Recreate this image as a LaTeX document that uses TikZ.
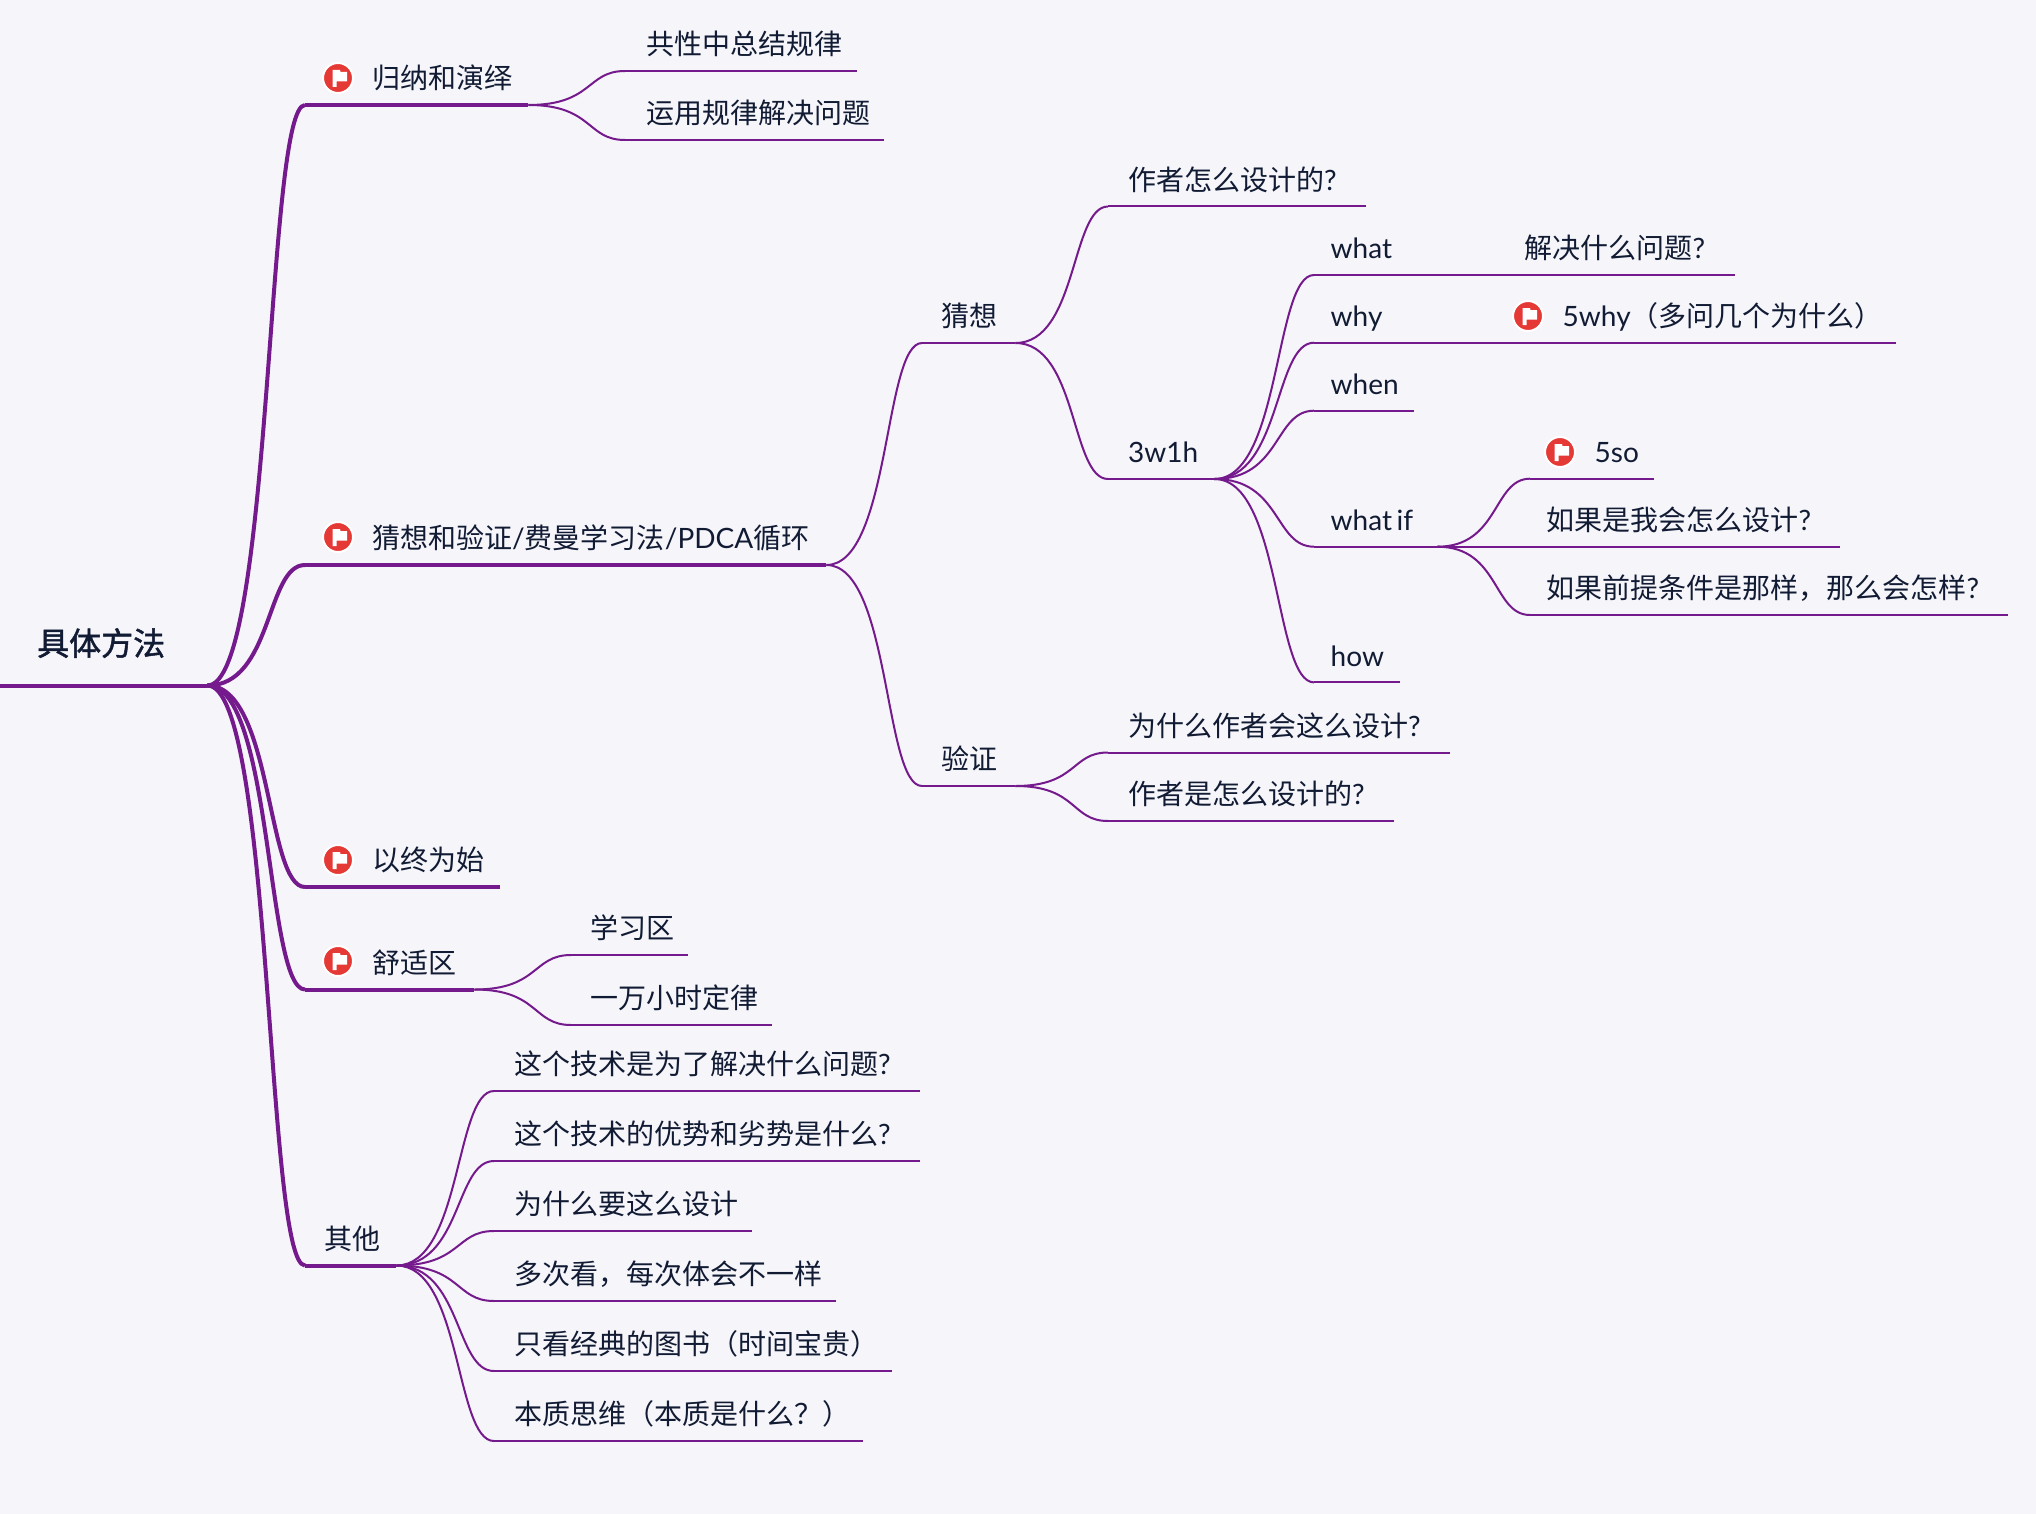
\documentclass[tikz,border=0pt]{standalone}
\usepackage{fontspec}
\setmainfont{Lato}
\newfontfamily\cjk{Noto Sans CJK SC}
\newfontfamily\cjkroot[FakeBold=1.5]{Noto Sans CJK SC}
\newfontfamily\latfont{Lato}
\newcommand{\lat}[1]{{\latfont #1}}
\usetikzlibrary{calc}
\definecolor{pagebg}{HTML}{F5F5FA}
\definecolor{branchc}{HTML}{751A8C}
\definecolor{flagred}{HTML}{E53935}
\definecolor{inkc}{HTML}{111B33}
\tikzset{
  topic/.style 2 args={anchor=south west, inner sep=0pt, text=inkc, align=left,
    font=\fontsize{28}{30}\selectfont\cjk, text width=#1pt, text height=24pt, text depth=16pt,
    execute at begin node={\hspace*{#2pt}}},
  rootnode/.style={topic={207}{37}, text depth=30pt, font=\fontsize{32}{34}\selectfont\cjkroot},
  thickline/.style={draw=branchc, line width=4pt},
  thinline/.style={draw=branchc, line width=2pt},
  branch/.style={to path={let \p1=(\tikztostart), \p2=(\tikztotarget) in
    .. controls ({\x1+.67*(\x2-\x1)},\y1) and ({\x2-.40*(\x2-\x1)},\y2) .. (\tikztotarget)}},
  flagmark/.style={circle, fill=flagred, draw=white, line width=2pt, minimum size=30pt, inner sep=0pt,
    path picture={
      \fill[white, shift={(path picture bounding box.center)}]
        (-5.5,9) -- (-5.5,-8) -- (2,-8) -- (2.5,-6) -- (9,-6) -- (9,3.5) -- (-1.5,3.5) -- (-1.5,9) -- cycle;
    }},
}
\begin{document}
\begin{tikzpicture}[x=1pt,y=-1pt]
  \useasboundingbox (0,0) rectangle (2036,1514);
  \fill[pagebg] (0,0) rectangle (2036,1514);

  % centre and first level
  \node[rootnode] (root) at (0,685.5) {具体方法};
  \node[topic={223}{67}] (guina) at (305,105) {归纳和演绎};
  \node[topic={521}{67}] (caice) at (305,565) {猜想和验证\lat{/}费曼学习法\lat{/PDCA}循环};
  \node[topic={195}{67}] (zhongshi) at (305,887) {以终为始};
  \node[topic={169}{67}] (shushi) at (305,989.5) {舒适区};
  \node[topic={91}{19}] (qita) at (305,1265.5) {其他};

  \node[flagmark] (fguina) at (338,78) {};
  \node[flagmark] (fcaice) at (338,537) {};
  \node[flagmark] (fzhongshi) at (338,860) {};
  \node[flagmark] (fshushi) at (338,961) {};

  % guina
  \node[topic={232}{21}] (gongxing) at (625,71) {共性中总结规律};
  \node[topic={259}{21}] (yunyong) at (625,140) {运用规律解决问题};

  % caice
  \node[topic={93}{19}] (caixiang) at (922,343) {猜想};
  \node[topic={93}{19}] (yanzheng) at (922,786) {验证};
  \node[topic={258}{20}] (zuozhe) at (1108,206.5) {作者怎么设计的\lat{?}};
  \node[topic={106}{20}] (wh) at (1108,479) {\lat{3w1h}};
  \node[topic={342}{20}] (weisheme) at (1108,752.5) {为什么作者会这么设计\lat{?}};
  \node[topic={286}{20}] (zenme) at (1108,821) {作者是怎么设计的\lat{?}};

  % 3w1h
  \node[topic={100}{16.5}] (what) at (1314,275) {\lat{what}};
  \node[topic={100}{16.5}] (why) at (1314,342.7) {\lat{why}};
  \node[topic={100}{16.5}] (when) at (1314,410.7) {\lat{when}};
  \node[topic={123}{16.5}] (whatif) at (1314,546.7) {\lat{what\hspace{.16em}if}};
  \node[topic={86}{16.5}] (how) at (1314,682.4) {\lat{how}};
  \node[topic={230}{19.5}] (jiejue) at (1505,275) {解决什么问题\lat{?}};
  \node[topic={391}{57.5}] (fivewhy) at (1505,342.7) {\lat{5why}（多问几个为什么）};
  \node[flagmark] (ffivewhy) at (1528,316) {};

  % what if
  \node[topic={124}{64.5}] (fiveso) at (1530,478.7) {\lat{5so}};
  \node[topic={310}{16.5}] (woshi) at (1530,546.7) {如果是我会怎么设计\lat{?}};
  \node[topic={478}{16.5}] (qianti) at (1530,615) {如果前提条件是那样，那么会怎样\lat{?}};
  \node[flagmark] (ffiveso) at (1560,452) {};

  % shushi
  \node[topic={117}{19.5}] (xuexi) at (571,955) {学习区};
  \node[topic={201}{19.5}] (yiwan) at (571,1025) {一万小时定律};

  % qita
  \node[topic={426}{20}] (jishu) at (494,1091) {这个技术是为了解决什么问题\lat{?}};
  \node[topic={426}{20}] (youshi) at (494,1161) {这个技术的优势和劣势是什么\lat{?}};
  \node[topic={258}{20}] (sheji) at (494,1231) {为什么要这么设计};
  \node[topic={342}{20}] (duoci) at (494,1301) {多次看，每次体会不一样};
  \node[topic={398}{20}] (jingdian) at (494,1371) {只看经典的图书（时间宝贵）};
  \node[topic={369}{20}] (benzhi) at (494,1441) {本质思维（本质是什么？）};

  % underlines
  \foreach \k in {root,guina,caice,zhongshi,shushi,qita}
    \draw[thickline] (\k.south west) -- (\k.south east);
  \foreach \k in {gongxing,yunyong,caixiang,yanzheng,zuozhe,wh,weisheme,zenme,what,why,when,whatif,how,jiejue,fivewhy,fiveso,woshi,qianti,xuexi,yiwan,jishu,youshi,sheji,duoci,jingdian,benzhi}
    \draw[thinline] (\k.south west) -- (\k.south east);

  % connectors
  \foreach \k in {guina,caice,zhongshi,shushi,qita}
    \draw[thickline] (root.south east) to[branch] (\k.south west);
  \foreach \a/\b in {guina/gongxing,guina/yunyong,caice/caixiang,caice/yanzheng,caixiang/zuozhe,caixiang/wh,yanzheng/weisheme,yanzheng/zenme,wh/what,wh/why,wh/when,wh/whatif,wh/how,whatif/fiveso,whatif/qianti,shushi/xuexi,shushi/yiwan,qita/jishu,qita/youshi,qita/sheji,qita/duoci,qita/jingdian,qita/benzhi}
    \draw[thinline] (\a.south east) to[branch] (\b.south west);
  \draw[thinline] (what.south east) -- (jiejue.south west);
  \draw[thinline] (why.south east) -- (fivewhy.south west);
  \draw[thinline] (whatif.south east) -- (woshi.south west);
\end{tikzpicture}
\end{document}
